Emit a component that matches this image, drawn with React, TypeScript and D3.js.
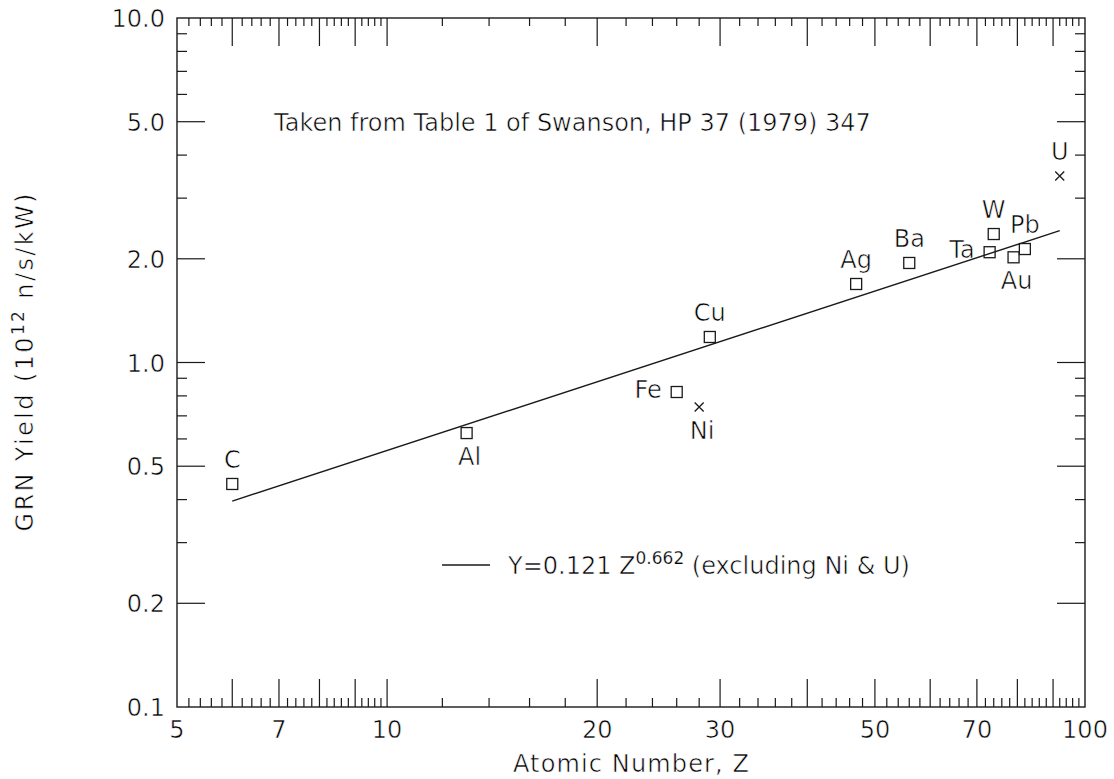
import React from 'react';
import * as d3 from 'd3';

// GRN yield vs atomic number (Swanson, HP 37 (1979) 347, Table 1)
const elements = ['C', 'Al', 'Fe', 'Ni', 'Cu', 'Ag', 'Ba', 'Ta', 'W', 'Au', 'Pb', 'U'];
const atomicNumbers = [6, 13, 26, 28, 29, 47, 56, 73, 74, 79, 82, 92];
const yields = [0.444, 0.624, 0.821, 0.743, 1.186, 1.69, 1.945, 2.09, 2.36, 2.02, 2.135, 3.48];
const markerKinds = ['square', 'square', 'square', 'cross', 'square', 'square', 'square', 'square', 'square', 'square', 'square', 'cross'];
const labelSides = ['above', 'below', 'left', 'below', 'above', 'above', 'above', 'left', 'above', 'below', 'above', 'above'];

// fit line Y = 0.121 Z^0.662, end points
const fitZ = [6, 92];
const fitY = [0.396, 2.414];

const xTickLabels = [5, 7, 10, 20, 30, 50, 70, 100];
const yTickLabels = ['0.1', '0.2', '0.5', '1.0', '2.0', '5.0', '10.0'];

const W = 1114;
const H = 779;
const margin = { top: 18, right: 29, bottom: 72, left: 177 };
const FONT = "'DejaVu Sans', 'Liberation Sans', sans-serif";
const INK = '#1a1a1a';

export default function App() {
  const x = d3.scaleLog().domain([5, 100]).range([margin.left, W - margin.right]);
  const y = d3.scaleLog().domain([0.1, 10]).range([H - margin.bottom, margin.top]);
  const [x0, x1] = x.range();
  const [y0, y1] = y.range();

  // x ticks: long at integer multiples, short between
  const xMajor = [6, 7, 8, 9, 10, 20, 30, 40, 50, 60, 70, 80, 90];
  const xMinor = [
    ...d3.range(5.2, 10, 0.2).filter(v => Math.abs(v - Math.round(v)) > 0.01),
    ...d3.range(12, 100, 2).filter(v => v % 10 !== 0),
  ];
  const yMajor = [0.2, 0.5, 1, 2, 5];
  const yMinor = [0.3, 0.4, 0.6, 0.7, 0.8, 0.9, 3, 4, 6, 7, 8, 9];

  const fitLine = d3.line<number>()
    .x((d, i) => x(fitZ[i]))
    .y(d => y(d));

  const labelAttrs = (side: string, cx: number, cy: number) => {
    if (side === 'above') return { x: cx, y: cy - 23, textAnchor: 'middle' };
    if (side === 'below') return { x: cx + 3, y: cy + 25, textAnchor: 'middle' };
    return { x: cx - 15, y: cy - 1, textAnchor: 'end' };
  };

  // thin the glyph strokes a little so the lettering reads like a plotter font
  const thin = { stroke: '#fff', strokeWidth: 0.6 };
  const supThin = { stroke: '#fff', strokeWidth: 0.25 };

  return (
    <svg width={W} height={H} style={{ position: 'absolute', left: 0, top: 0, background: '#fff' }}
      fontFamily={FONT} fontSize={24} fill="#000">
      {/* frame */}
      <rect x={x0} y={y1} width={x1 - x0} height={y0 - y1} fill="none" stroke={INK} strokeWidth={1.4} />

      {/* ticks on all four sides */}
      <g stroke={INK} strokeWidth={1.2}>
        {xMajor.map(v => (
          <g key={'xM' + v}>
            <line x1={x(v)} x2={x(v)} y1={y0} y2={y0 - 28} />
            <line x1={x(v)} x2={x(v)} y1={y1} y2={y1 + 28} />
          </g>
        ))}
        {xMinor.map(v => (
          <g key={'xm' + v}>
            <line x1={x(v)} x2={x(v)} y1={y0} y2={y0 - 9} />
            <line x1={x(v)} x2={x(v)} y1={y1} y2={y1 + 8} />
          </g>
        ))}
        {yMajor.map(v => (
          <g key={'yM' + v}>
            <line x1={x0} x2={x0 + 28} y1={y(v)} y2={y(v)} />
            <line x1={x1} x2={x1 - 28} y1={y(v)} y2={y(v)} />
          </g>
        ))}
        {yMinor.map(v => (
          <g key={'ym' + v}>
            <line x1={x0} x2={x0 + 10} y1={y(v)} y2={y(v)} />
            <line x1={x1} x2={x1 - 10} y1={y(v)} y2={y(v)} />
          </g>
        ))}
      </g>

      <g {...thin}>
        {/* tick labels */}
        {xTickLabels.map(v => (
          <text key={'xl' + v} x={x(v)} y={y0 + 31} textAnchor="middle">{v}</text>
        ))}
        {yTickLabels.map(s => (
          <text key={'yl' + s} x={x0 - 12} y={y(+s) + 9} textAnchor="end">{s}</text>
        ))}

        {/* axis titles */}
        <text x={(x0 + x1) / 2} y={H - 7} textAnchor="middle" textLength={236} lengthAdjust="spacing">
          Atomic Number, Z
        </text>
        <text transform={`translate(33,${(y0 + y1) / 2}) rotate(-90)`} textAnchor="middle"
          textLength={338} lengthAdjust="spacing">
          GRN Yield (10<tspan dy={-9} fontSize={17} {...supThin}>12</tspan><tspan dy={9}> n/s/kW)</tspan>
        </text>

        {/* note */}
        <text x={274} y={131}>Taken from Table 1 of Swanson, HP 37 (1979) 347</text>

        {/* point labels */}
        {elements.map((el, i) => {
          const la = labelAttrs(labelSides[i], x(atomicNumbers[i]), y(yields[i]));
          return (
            <text key={'lab' + el} x={la.x} y={la.y} textAnchor={la.textAnchor} dominantBaseline="middle">{el}</text>
          );
        })}

        {/* legend text */}
        <text x={508} y={574}>
          Y=0.121 Z<tspan dy={-10} fontSize={17} {...supThin}>0.662</tspan><tspan dy={10}> (excluding Ni &amp; U)</tspan>
        </text>
      </g>

      {/* fit line */}
      <path d={fitLine(fitY) || ''} fill="none" stroke={INK} strokeWidth={1.4} />

      {/* points */}
      {elements.map((el, i) => {
        const cx = x(atomicNumbers[i]);
        const cy = y(yields[i]);
        return markerKinds[i] === 'square' ? (
          <rect key={el} x={cx - 5.5} y={cy - 5.5} width={11} height={11} fill="none" stroke={INK} strokeWidth={1.3} />
        ) : (
          <path key={el} d={`M${cx - 4.5},${cy - 4.5}L${cx + 4.5},${cy + 4.5}M${cx - 4.5},${cy + 4.5}L${cx + 4.5},${cy - 4.5}`}
            stroke={INK} strokeWidth={1.3} />
        );
      })}

      {/* legend line */}
      <line x1={442} x2={490} y1={565} y2={565} stroke={INK} strokeWidth={1.4} />
    </svg>
  );
}
